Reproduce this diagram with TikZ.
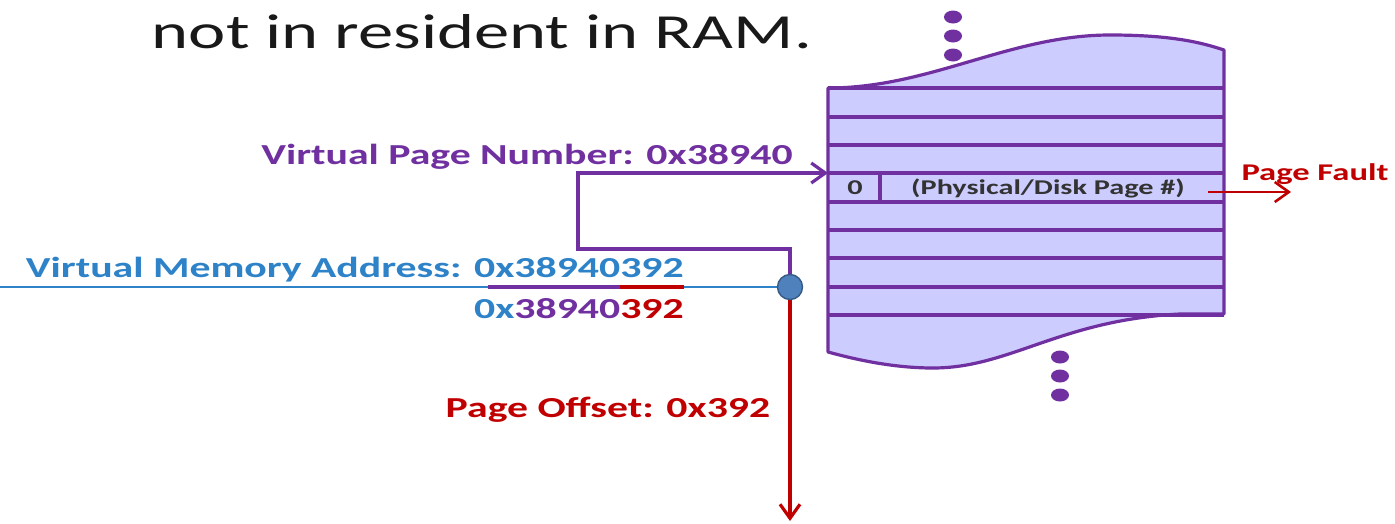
\documentclass[tikz,border=0pt]{standalone}
\usepackage{fontspec}
\setmainfont{Carlito}
\newfontfamily\labelfont[FakeStretch=1.44]{Carlito}
\newfontfamily\titlefont[FakeStretch=1.44]{Carlito}
\usetikzlibrary{arrows.meta, shapes.geometric}

\definecolor{vpurple}{HTML}{7030A0}
\definecolor{vblue}{HTML}{2E83C8}
\definecolor{vred}{HTML}{C00000}
\definecolor{tablefill}{HTML}{CCCCFF}
\definecolor{dotblue}{HTML}{4F81BD}

\tikzset{
  lbl/.style={font=\labelfont\bfseries\fontsize{29}{30}\selectfont, inner sep=0pt},
  cell/.style={font=\labelfont\bfseries\fontsize{21}{22}\selectfont, text=black!80, inner sep=0pt},
  rowline/.style={draw=vpurple, line width=3.2pt},
  vdot/.style={ellipse, fill=vpurple, minimum width=18pt, minimum height=13pt, inner sep=0pt},
}

\begin{document}
\begin{tikzpicture}[x=1pt, y=-1pt, >={Straight Barb[length=14pt, width=20pt]}]
  \useasboundingbox (0,0) rectangle (1395,523);

  % Title
  \node[font=\titlefont\fontsize{49}{50}\selectfont, text=black!90, inner sep=0pt] (title) at (482,32) {not in resident in RAM.};

  % Page table with wavy ends
  \filldraw[rowline, fill=tablefill, line join=round]
    (828,88) .. controls (930,88) and (1010,35) .. (1110,35)
    .. controls (1170,35) and (1200,42) .. (1224,50)
    -- (1224,314) -- (1180,314)
    .. controls (1060,320) and (1010,368) .. (933,368)
    .. controls (890,368) and (850,358) .. (828,352) -- cycle;
  \foreach \y in {88,117,145,173,202,230,258,287,315}
    \draw[rowline] (828,\y) -- (1224,\y);
  \draw[rowline] (880,173) -- (880,202);

  % Table entry
  \node[cell] (valid) at (855,188) {0};
  \node[cell] (entry) at (1048,188) {(Physical/Disk Page \#)};

  % Dots above and below the table
  \foreach \y [count=\i] in {17,36,55}
    \node[vdot] (topdot\i) at (953,\y) {};
  \foreach \y [count=\i] in {357,376,395}
    \node[vdot] (botdot\i) at (1060,\y) {};

  % Labels
  \node[lbl, text=vpurple] (vpn) at (527,157) {Virtual Page Number: 0x38940};
  \node[lbl, text=vblue, anchor=east] (vma) at (684,270) {Virtual Memory Address: 0x38940392};
  \node[lbl, anchor=east] (split) at (684,309) {\textcolor{vblue}{0x}\textcolor{vpurple}{38940}\textcolor{vred}{392}};
  \node[lbl, text=vred] (offset) at (608,410) {Page Offset: 0x392};
  \node[font=\labelfont\bfseries\fontsize{24}{25}\selectfont, text=vred, inner sep=0pt] (fault) at (1315,174) {Page Fault};

  % Connector end points
  \coordinate (addrstart) at (0,287);
  \coordinate (bend) at (578,249);
  \coordinate (pteentry) at (828,173);
  \coordinate (offsetend) at (790,521);
  \coordinate (faultstart) at (1208,192);
  \coordinate (faultend) at (1291,192);

  % Address line, split and tap
  \coordinate (tappos) at (790,287);
  \draw[vblue, line width=2.6pt] (addrstart) -- (tappos);
  \draw[vpurple, line width=3.2pt] (488,287) -- (620,287);
  \draw[vred, line width=3.2pt] (620,287) -- (684,287);
  \draw[vpurple, line width=3.2pt, ->] (tappos) |- (bend) |- (pteentry);
  \draw[vred, line width=3.2pt, ->] (tappos) -- (offsetend);
  \node[circle, fill=dotblue, draw=dotblue!70!black, line width=1.4pt, minimum size=25pt, inner sep=0pt] (tap) at (tappos) {};

  % Page fault
  \draw[vred, line width=2.6pt, ->] (faultstart) -- (faultend);
\end{tikzpicture}
\end{document}
